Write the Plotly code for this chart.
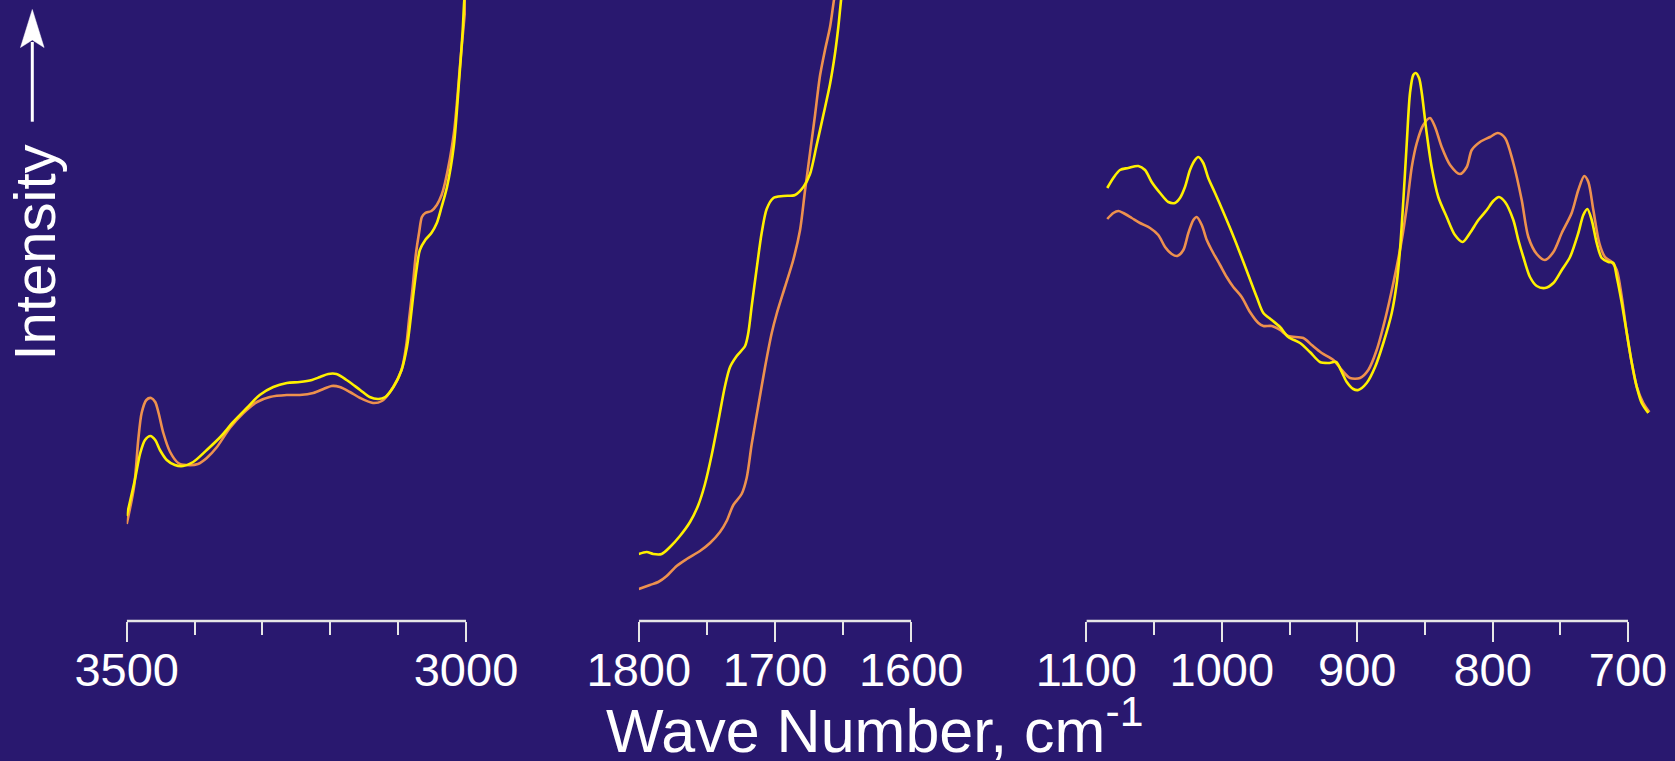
import plotly.graph_objects as go

W, H = 1675, 761
BG = "#29186F"
YELLOW = "#FFF000"
ORANGE = "#EE914E"
AXIS = "#E6E6E6"
FONT = "Liberation Sans, Arial, Helvetica, sans-serif"

# ---------------- data (intensity in arbitrary units) ----------------
# Panel 1: 3500-3000 cm-1
wn1_yellow = [3500, 3488, 3480, 3473, 3465, 3458, 3451, 3441, 3429, 3417, 3402, 3382, 3362, 3343,
              3323, 3304, 3284, 3264, 3245, 3227, 3215, 3203, 3191, 3176, 3156, 3142, 3129, 3119,
              3107, 3095, 3087, 3083, 3078, 3073, 3068, 3060, 3051, 3043, 3036, 3028, 3018, 3010,
              3005, 3002.5, 3000]
int1_yellow = [105, 141, 168, 181, 185, 181, 171, 161, 156, 155, 159, 171, 184, 199,
               213, 226, 234, 238, 239, 241, 244, 247, 247, 241, 231, 224, 222, 224,
               234, 251, 274, 294, 324, 351, 371, 381, 388, 398, 414, 434, 475, 542,
               589, 621, 640]
wn1_orange = [3500, 3489, 3483, 3478, 3471, 3464, 3458, 3453, 3446, 3436, 3424, 3412, 3395, 3382,
              3367, 3348, 3328, 3308, 3289, 3264, 3245, 3225, 3210, 3198, 3186, 3171, 3156, 3137,
              3124, 3112, 3095, 3088, 3084, 3079, 3074, 3069, 3065, 3060, 3051, 3043, 3036, 3031,
              3018, 3008, 3000]
int1_orange = [97, 135, 181, 208, 221, 223, 219, 208, 188, 169, 158, 156, 157, 163,
               174, 193, 208, 219, 224, 226, 226, 228, 232, 235, 234, 229, 223, 218,
               220, 229, 251, 276, 301, 331, 366, 389, 404, 408, 410, 416, 426, 438,
               487, 562, 621]

# Panel 2: 1800-1600 cm-1
wn2_yellow = [1800, 1794.2, 1789.4, 1783.2, 1777.1, 1769.8, 1762.4, 1756.3, 1751.4, 1746.5, 1741.6,
              1736.7, 1733, 1728.1, 1722, 1719.6, 1717.1, 1713.4, 1709.8, 1706.1, 1701.2, 1693.9,
              1685.3, 1679.2, 1674.3, 1669.4, 1664.5, 1659.6, 1656, 1653.5, 1651.5, 1648]
int2_yellow = [67, 69, 67, 67, 74, 85, 99, 116, 137, 166, 200,
               235, 254, 265, 275, 288, 315, 353, 388, 412, 423, 425,
               426, 434, 447, 476, 506, 537, 567, 594, 621, 660]
wn2_orange = [1800, 1791.8, 1785.7, 1779.5, 1772.2, 1764.8, 1755.1, 1747.7, 1740.4, 1735.5, 1730.6,
              1724.5, 1720.8, 1717.1, 1712.3, 1707.3, 1702.4, 1698.8, 1692.7, 1686.6, 1681.6, 1678,
              1674.3, 1670.6, 1667, 1663.3, 1659.6, 1656.7, 1653]
int2_orange = [32, 36, 39, 45, 55, 62, 70, 78, 89, 100, 116,
               127, 143, 177, 215, 254, 288, 307, 334, 361, 391, 430,
               468, 506, 545, 571, 594, 621, 650]

# Panel 3: 1100-685 cm-1
wn3_yellow = [1084.6, 1080.1, 1075.2, 1069.1, 1061.7, 1056.7, 1051.8, 1045.6, 1039.5, 1034.6, 1030.9,
              1027.2, 1023.5, 1019.8, 1017.4, 1013.7, 1010, 1005, 998.9, 992.7, 986.6, 980.4, 974.2,
              969.3, 963.1, 957, 950.9, 942.2, 934.9, 927.5, 921.3, 915.6, 911.4, 907.7, 902.9, 899.2,
              893, 886.8, 880.7, 874.5, 870.8, 868.4, 865.9, 863.4, 861, 858.6, 856.8, 854.3, 852.3,
              848.7, 845, 840.1, 833.9, 827.8, 822.1, 816.7, 810.5, 804.3, 799.5, 795.3, 790.8, 784.7,
              781, 777.3, 772.4, 767.4, 761.3, 755.1, 748.9, 742.8, 736.7, 733, 730, 726.8, 723.1,
              719.4, 714.5, 710.8, 708.3, 704.6, 700.9, 697.2, 693.5, 689.9, 685]
int3_yellow = [433, 443, 451, 453, 455, 451, 439, 428, 419, 418, 423,
               434, 451, 461, 464, 458, 443, 428, 409, 389, 368, 346, 324,
               308, 301, 294, 284, 278, 269, 259, 258, 259, 249, 239, 232, 231,
               238, 254, 278, 308, 338, 371, 421, 478, 528, 546, 548, 543, 528,
               488, 454, 424, 404, 386, 379, 388, 401, 411, 420, 424, 419, 401,
               381, 364, 344, 335, 333, 338, 351, 364, 388, 406, 412, 401, 378,
               363, 359, 358, 344, 318, 288, 258, 234, 218, 208]
wn3_orange = [1084.6, 1080.1, 1076.4, 1072.7, 1066.5, 1060.4, 1053, 1046.9, 1041.9, 1037, 1032.9,
              1028.4, 1024.7, 1021, 1018.5, 1014.8, 1011.1, 1007.5, 1001.3, 996.4, 991.5, 985.3,
              979.2, 973, 969.3, 963.1, 957, 950.9, 939.8, 933.6, 926.2, 917.6, 911.4, 905.3, 897.9,
              891.8, 885.6, 879.5, 873.3, 867.1, 863.4, 859.7, 856, 851.2, 846.2, 842.5, 837.6, 831.4,
              824.1, 819.1, 815.4, 809.3, 801.9, 796.2, 790.8, 784.7, 778.5, 773.6, 767.4, 761.3,
              755.1, 748.9, 741.6, 736.7, 732.3, 729.3, 725.6, 721.2, 717, 712, 708.3, 704.6, 700.9,
              697.2, 693.5, 688.7, 684.2]
int3_orange = [402, 408, 410, 408, 403, 398, 393, 386, 374, 367, 365,
               371, 388, 401, 404, 396, 381, 371, 356, 344, 334, 324,
               309, 298, 295, 295, 291, 285, 283, 276, 268, 261, 251, 243, 243,
               251, 271, 301, 338, 381, 414, 454, 478, 496, 503, 494, 474, 456,
               447, 454, 471, 479, 484, 488, 483, 458, 421, 384, 367, 361,
               369, 388, 408, 431, 445, 439, 411, 378, 364, 359, 351, 324, 288,
               258, 234, 218, 209]

# tick labels
ticks1 = [3500, 3000]
minor1 = [3400, 3300, 3200, 3100]
ticks2 = [1800, 1700, 1600]
minor2 = [1750, 1650]
ticks3 = [1100, 1000, 900, 800, 700]
minor3 = [1050, 950, 850, 750]

# ---------------- layout geometry (pixels) ----------------
Y_AXIS_PX = 621.0
Y_MAX = 621.0
y_bottom = 1 - Y_AXIS_PX / H

ax1_px = (126.7, 466.0)
ax2_px = (638.8, 911.2)
ax3_px = (1086.4, 1628.0)
x3_end = 676.0
scale3 = (ax3_px[1] - ax3_px[0]) / (ticks3[0] - ticks3[-1])
ax3_dom_end = ax3_px[1] + (ticks3[-1] - x3_end) * scale3


def px(x):
    return x / W


def py(y):
    return 1 - y / H


fig = go.Figure()

line_w = 2.6
for xs, ys, c, xa in [
    (wn1_orange, int1_orange, ORANGE, "x"),
    (wn1_yellow, int1_yellow, YELLOW, "x"),
    (wn2_orange, int2_orange, ORANGE, "x2"),
    (wn2_yellow, int2_yellow, YELLOW, "x2"),
    (wn3_orange, int3_orange, ORANGE, "x3"),
    (wn3_yellow, int3_yellow, YELLOW, "x3"),
]:
    fig.add_trace(go.Scatter(x=xs, y=ys, mode="lines", xaxis=xa, yaxis="y",
                             line=dict(color=c, width=line_w, shape="spline", smoothing=0.8),
                             showlegend=False, hoverinfo="skip"))

axis_common = dict(showgrid=False, zeroline=False, showline=False, ticks="outside",
                   ticklen=20, tickwidth=2, tickcolor=AXIS, anchor="y", tickmode="array",
                   tickfont=dict(family=FONT, size=47, color="white"),
                   ticklabelstandoff=-12,
                   automargin=False, fixedrange=True)


def minor(vals):
    return dict(tickmode="array", tickvals=vals, ticks="outside", ticklen=13,
                tickwidth=2, tickcolor=AXIS, showgrid=False)


fig.update_layout(
    template="none",
    width=W, height=H,
    margin=dict(l=0, r=0, t=0, b=0, pad=0, autoexpand=False),
    paper_bgcolor=BG, plot_bgcolor=BG,
    showlegend=False,
    xaxis=dict(domain=[px(ax1_px[0]), px(ax1_px[1])], range=[ticks1[0], ticks1[-1]],
               tickvals=ticks1, ticktext=[str(t) for t in ticks1], minor=minor(minor1), **axis_common),
    xaxis2=dict(domain=[px(ax2_px[0]), px(ax2_px[1])], range=[ticks2[0], ticks2[-1]],
                tickvals=ticks2, ticktext=[str(t) for t in ticks2], minor=minor(minor2), **axis_common),
    xaxis3=dict(domain=[px(ax3_px[0]), px(ax3_dom_end)], range=[ticks3[0], x3_end],
                tickvals=ticks3, ticktext=[str(t) for t in ticks3], minor=minor(minor3), **axis_common),
    yaxis=dict(domain=[y_bottom, 1], range=[0, Y_MAX], visible=False, fixedrange=True,
               automargin=False),
)

shapes = []
for xr, tv in [("x", ticks1), ("x2", ticks2), ("x3", ticks3)]:
    shapes.append(dict(type="line", xref=xr, yref="paper", x0=tv[0], x1=tv[-1],
                       y0=y_bottom, y1=y_bottom, line=dict(color=AXIS, width=2.5)))

# y-axis arrow (decoration)
arrow_x = 32.3
shapes.append(dict(type="line", xref="paper", yref="paper", x0=px(arrow_x), x1=px(arrow_x),
                   y0=py(121.7), y1=py(42), line=dict(color="white", width=3)))
shapes.append(dict(type="path", xref="paper", yref="paper", fillcolor="white",
                   line=dict(color="white", width=0.5),
                   path=(f"M {px(arrow_x)},{py(9.5)} L {px(arrow_x - 11.8)},{py(47.5)} "
                         f"L {px(arrow_x)},{py(40)} L {px(arrow_x + 11.8)},{py(47.5)} Z")))
fig.update_layout(shapes=shapes)

fig.add_annotation(text="Wave Number, cm<sup>-1</sup>", xref="paper", yref="paper",
                   x=px(874), y=py(726), xanchor="center", yanchor="middle", showarrow=False,
                   font=dict(family=FONT, size=61, color="white"))
fig.add_annotation(text="Intensity", xref="paper", yref="paper", textangle=-90,
                   x=px(34), y=py(252.5), xanchor="center", yanchor="middle", showarrow=False,
                   font=dict(family=FONT, size=58, color="white"))

fig.write_html("out.html")
